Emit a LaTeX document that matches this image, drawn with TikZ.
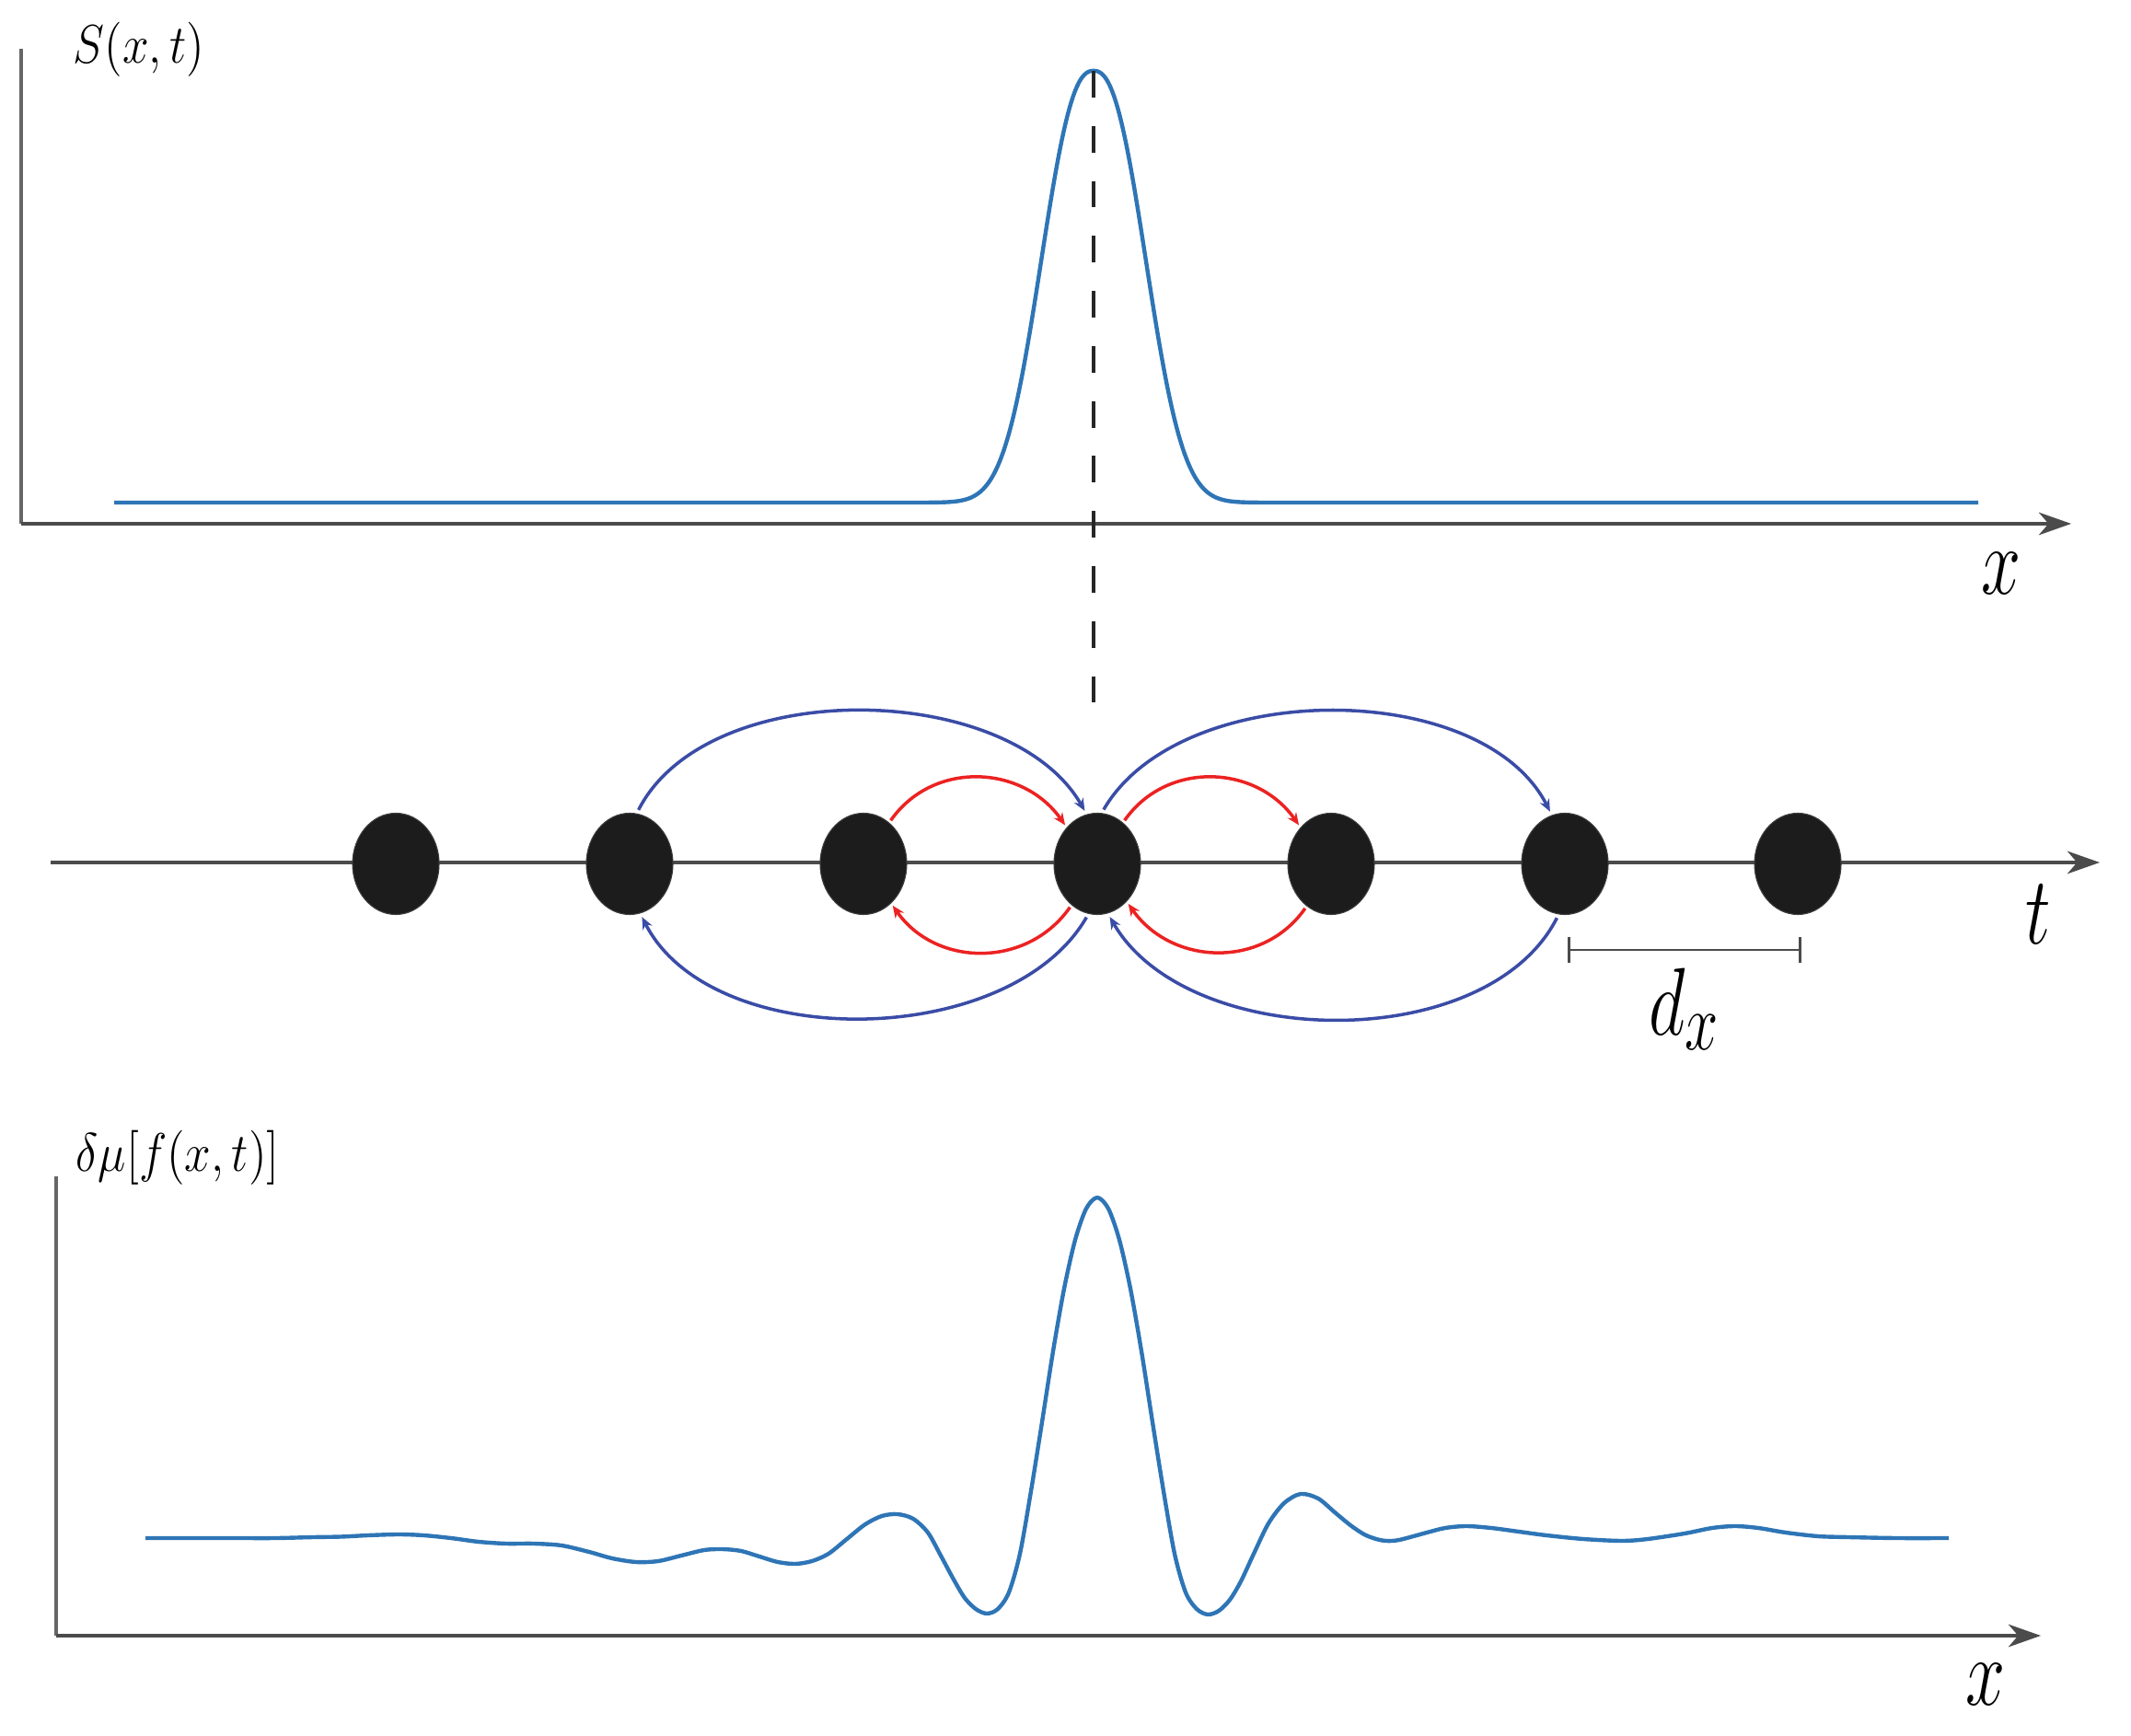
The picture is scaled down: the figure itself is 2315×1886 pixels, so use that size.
\RequirePackage{fix-cm}
\documentclass[tikz,border=0pt]{standalone}
\usepackage{graphicx}
\usetikzlibrary{arrows.meta,shapes.geometric}
\definecolor{curveblue}{RGB}{46,117,182}
\definecolor{arcblue}{RGB}{58,76,166}
\definecolor{arcred}{RGB}{236,34,34}
\definecolor{axisgray}{RGB}{75,75,75}
\definecolor{beadblack}{RGB}{28,28,28}
\begin{document}
\begin{tikzpicture}[x=0.01cm, y=-0.01cm,
  axis/.style={draw=axisgray, line width=0.9pt, -{Stealth[length=10pt,width=7pt,inset=3pt]}},
  vaxis/.style={draw=axisgray!85, line width=0.9pt},
  curve/.style={draw=curveblue, line width=1.25pt, line join=round},
  bead/.style={ellipse, fill=beadblack, draw=beadblack!85!white, line width=0.3pt,
    minimum width=0.94cm, minimum height=1.1cm, inner sep=0pt},
  barc/.style={draw=arcblue, line width=1.0pt, shorten <=1.2pt, shorten >=1.2pt,
    -{Stealth[length=3.8pt,width=3.2pt]}},
  rarc/.style={draw=arcred, line width=1.0pt, shorten <=0.8pt, shorten >=0.8pt,
    -{Stealth[length=3.8pt,width=3.2pt]}},
  biglbl/.style={inner sep=0pt, font=\fontsize{22pt}{26pt}\selectfont},
  axlbl/.style={inner sep=0pt, anchor=base west, font=\fontsize{14.6pt}{17pt}\selectfont},
  dashline/.style={draw=black!85, line width=0.9pt, dash pattern=on 8.2pt off 8.8pt},
  scalebar/.style={draw=axisgray, line width=0.8pt, {Bar[width=7.7pt]}-{Bar[width=7.7pt]}},
]
\useasboundingbox (0,0) rectangle (2315,1886);

% ---------- top panel ----------
\coordinate (tv0) at (23,53);
\coordinate (to0) at (23,569);
\coordinate (tx1) at (2250,569);
\draw[vaxis] (tv0) -- (to0);
\draw[axis] (to0) -- (tx1);
\node[axlbl] (slab) at (79,69) {\scalebox{1}[1.15]{$S(x,t)$}};
\node[biglbl] (xlab1) at (2174,623) {\scalebox{1}[1.35]{$x$}};

\draw[curve] (124,546) -- plot[domain=-200:200, samples=201]
  ({1188+\x}, {546-469*exp(-pow(abs(\x)/71.5+0.001,2.4))}) -- (2149,546);

\coordinate (peak) at (1188,77);
\coordinate (dashend) at (1188,765);
\draw[dashline] (peak) -- (dashend);

% ---------- middle panel ----------
\coordinate (m0) at (55,937);
\coordinate (m1) at (2281,937);
\draw[axis] (m0) -- (m1);

\node[bead] (c1) at (430,938.5) {};
\node[bead] (c2) at (684,938.5) {};
\node[bead] (c3) at (938,938.5) {};
\node[bead] (c4) at (1192,938.5) {};
\node[bead] (c5) at (1446,938.5) {};
\node[bead] (c6) at (1700,938.5) {};
\node[bead] (c7) at (1953,938.5) {};

% blue long-range arcs
\draw[barc] (c2.82) to[out=63,in=120,looseness=0.88] (c4.102);
\draw[barc] (c4.85) to[out=60,in=117,looseness=0.88] (c6.105);
\draw[barc] (c6.263) to[out=243,in=300,looseness=0.9] (c4.282);
\draw[barc] (c4.260) to[out=240,in=297,looseness=0.9] (c2.282);

% red short-range arcs
\draw[rarc] (c3.58) to[out=55,in=125,looseness=1.1] (c4.130);
\draw[rarc] (c4.58) to[out=55,in=125,looseness=1.1] (c5.130);
\draw[rarc] (c5.240) to[out=235,in=305,looseness=1.1] (c4.308);
\draw[rarc] (c4.238) to[out=235,in=305,looseness=1.1] (c3.305);

\node[biglbl] (tlab) at (2214,993) {\scalebox{1}[1.35]{$t$}};

\coordinate (d0) at (1703,1032);
\coordinate (d1) at (1957,1032);
\draw[scalebar] (d0) -- (d1);
\node[biglbl, anchor=base] (dxlab) at (1830,1125)
  {\scalebox{1}[1.35]{$d_{\mbox{\fontsize{18.5pt}{20pt}\selectfont$x$}}$}};

% ---------- bottom panel ----------
\coordinate (bv0) at (61,1278);
\coordinate (bo0) at (61,1777);
\coordinate (bx1) at (2217,1777);
\draw[vaxis] (bv0) -- (bo0);
\draw[axis] (bo0) -- (bx1);
\node[axlbl] (mulab) at (82,1272) {\scalebox{1}[1.15]{$\delta\mu[f(x,t)]$}};
\node[biglbl] (xlab2) at (2157,1830) {\scalebox{1}[1.35]{$x$}};

\draw[curve] plot[smooth, tension=0.5] coordinates {
  (158,1671) (250,1671) (300,1671) (340,1670) (370,1669.5) (400,1668) (433,1667)
  (460,1668) (490,1671) (520,1675) (550,1677) (580,1677) (610,1679) (640,1686)
  (665,1693) (691,1697) (715,1696) (740,1690) (765,1684) (785,1683) (805,1685)
  (825,1691) (845,1697) (864,1699) (882,1696) (900,1688) (920,1672) (940,1656)
  (958,1647) (975,1645) (992,1650) (1008,1665) (1022,1690) (1036,1716)
  (1048,1736) (1060,1748) (1072,1753) (1084,1748) (1096,1730) (1108,1688)
  (1120,1620) (1132,1545) (1144,1468) (1156,1400) (1168,1347) (1180,1313)
  (1192,1301) (1204,1313) (1216,1347) (1228,1400) (1240,1468) (1252,1545)
  (1264,1620) (1276,1688) (1288,1730) (1300,1748) (1312,1754) (1324,1750)
  (1336,1738) (1348,1718) (1362,1688) (1378,1655) (1395,1633) (1413,1623)
  (1432,1628) (1450,1643) (1467,1657) (1482,1667) (1495,1672) (1506,1674)
  (1520,1673) (1550,1665) (1570,1660) (1593,1658) (1620,1660) (1650,1664)
  (1680,1668) (1720,1672) (1762,1674) (1790,1672) (1830,1666) (1860,1660)
  (1885,1658) (1910,1660) (1940,1665) (1975,1669) (2008,1670) (2060,1671)
  (2117,1671)};
\end{tikzpicture}
\end{document}
